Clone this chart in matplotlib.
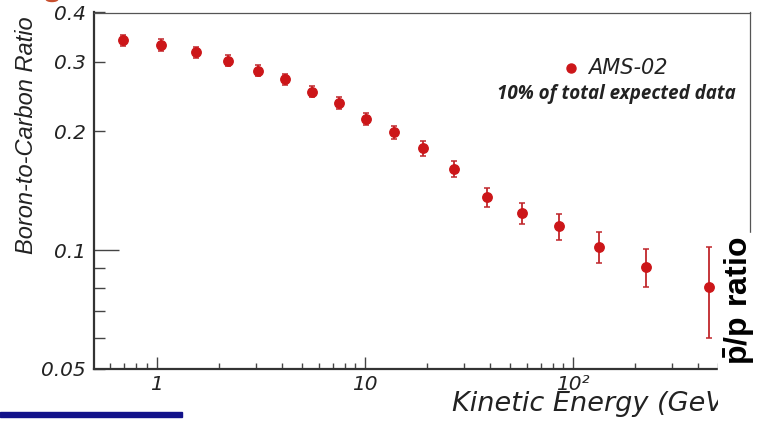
import numpy as np
import matplotlib
matplotlib.use("Agg")
import matplotlib.pyplot as plt
from matplotlib.ticker import FixedLocator, FixedFormatter
from matplotlib.patches import Rectangle, Ellipse
from matplotlib.transforms import Bbox, TransformedBbox

plt.rcParams["font.family"] = ["DejaVu Sans"]
plt.rcParams["mathtext.fontset"] = "custom"
plt.rcParams["mathtext.bf"] = "Liberation Sans:bold"
plt.rcParams["mathtext.rm"] = "Liberation Sans:bold"

# B/C ratio, AMS-02 (10% of expected data)
energy = [0.69, 1.05, 1.55, 2.2, 3.06, 4.14, 5.55, 7.5, 10.15, 13.8,
          19.0, 26.7, 38.5, 56.7, 85.5, 134, 224, 451]
ratio = [0.340, 0.331, 0.317, 0.302, 0.285, 0.271, 0.252, 0.236, 0.215, 0.199,
         0.181, 0.161, 0.136, 0.124, 0.115, 0.102, 0.0905, 0.0808]
ratio_err = [0.011, 0.011, 0.010, 0.010, 0.009, 0.009, 0.008, 0.008, 0.008, 0.0075,
             0.0075, 0.0077, 0.0073, 0.0078, 0.0087, 0.009, 0.010, 0.021]

x_major = [1, 10, 100]
x_major_labels = ["1", "10", "10\u00b2"]
x_minor = [0.6, 0.7, 0.8, 0.9, 2, 3, 4, 5, 6, 7, 8, 9,
           20, 30, 40, 50, 60, 70, 80, 90, 200, 300, 400, 500, 600, 700]
y_major = [0.1]
y_minor = [0.05, 0.06, 0.07, 0.08, 0.09, 0.2, 0.3, 0.4]
y_minor_labels = ["0.05", "", "", "", "", "0.2", "0.3", "0.4"]

W, H = 757, 424
fig = plt.figure(figsize=(W / 100, H / 100), dpi=100)
ax = fig.add_axes([94 / W, 1 - 369 / H, (750 - 94) / W, (369 - 12.5) / H])

red = "#cc1619"
ax.errorbar(energy, ratio, yerr=ratio_err, fmt="o", color=red, ecolor="#c0262b",
            markersize=6.8, elinewidth=1.3, capsize=2.2, capthick=1.1, zorder=3)

ax.set_xscale("log")
ax.set_yscale("log")
ax.set_xlim(0.5, 710)
ax.set_ylim(0.05, 0.4)

ax.xaxis.set_major_locator(FixedLocator(x_major))
ax.xaxis.set_major_formatter(FixedFormatter(x_major_labels))
ax.xaxis.set_minor_locator(FixedLocator(x_minor))
ax.xaxis.set_minor_formatter(FixedFormatter([""] * len(x_minor)))
ax.yaxis.set_major_locator(FixedLocator(y_major))
ax.yaxis.set_major_formatter(FixedFormatter(["0.1"]))
ax.yaxis.set_minor_locator(FixedLocator(y_minor))
ax.yaxis.set_minor_formatter(FixedFormatter(y_minor_labels))

ax.tick_params(which="both", direction="in", color="#444444", width=1.0,
               labelsize=14.5, top=False, right=False)
ax.tick_params(axis="x", which="major", length=9, pad=4)
ax.tick_params(axis="x", which="minor", length=4.5, pad=4)
ax.tick_params(axis="y", which="major", length=18, pad=6)
ax.tick_params(axis="y", which="minor", length=8, pad=6)
for lab in ax.get_xticklabels(which="both") + ax.get_yticklabels(which="both"):
    lab.set_fontstyle("italic")
    lab.set_color("#222222")

for side in ["left", "bottom"]:
    ax.spines[side].set_linewidth(1.6)
    ax.spines[side].set_color("#333333")
for side in ["top", "right"]:
    ax.spines[side].set_linewidth(0.9)
    ax.spines[side].set_color("#555555")

ax.set_ylabel("Boron-to-Carbon Ratio", fontsize=17, fontstyle="italic",
              family="Liberation Sans", color="#222222")
ax.yaxis.set_label_coords(-0.085, 0.655)

# x label, cut off at the right like in the original
xl = fig.text(452 / W, 1 - 411 / H, "Kinetic Energy (GeV)", fontsize=19.5,
              fontstyle="italic", color="#222222", ha="left", va="baseline")
xl.set_clip_box(TransformedBbox(Bbox([[0, 0], [718 / W, 1]]), fig.transFigure))
xl.set_clip_on(True)

# legend
fig.lines.append(plt.Line2D([571 / W], [1 - 68 / H], marker="o", color=red,
                            markersize=6.5, transform=fig.transFigure))
fig.text(588 / W, 1 - 68 / H, "AMS-02", fontsize=15, fontstyle="italic",
         color="#222222", va="center")
fig.text(497 / W, 1 - 94 / H, "10% of total expected data", fontsize=13.5,
         family="Open Sans", fontstyle="italic", fontweight="bold",
         color="#222222", va="center")

# pasted-over label on the right
fig.patches.append(Rectangle((718 / W, 1 - 378 / H), (W - 718) / W, 145 / H,
                             transform=fig.transFigure, color="white", zorder=5))
fig.text(740 / W, 1 - 301 / H, r"$\mathbf{\bar{p}/p\ ratio}$", fontsize=23,
         rotation=90, ha="center", va="center", color="black", zorder=6)

# bits of the slide around the chart
fig.patches.append(Rectangle((0, 1 - 417 / H), 182 / W, 5 / H,
                             transform=fig.transFigure, color="#12128a", zorder=5))
fig.patches.append(Ellipse((52 / W, 1 + 1 / H), 12 / W, 5 / H,
                           transform=fig.transFigure, color="#c8502f", zorder=5))

fig.savefig("out.png", dpi=100)
